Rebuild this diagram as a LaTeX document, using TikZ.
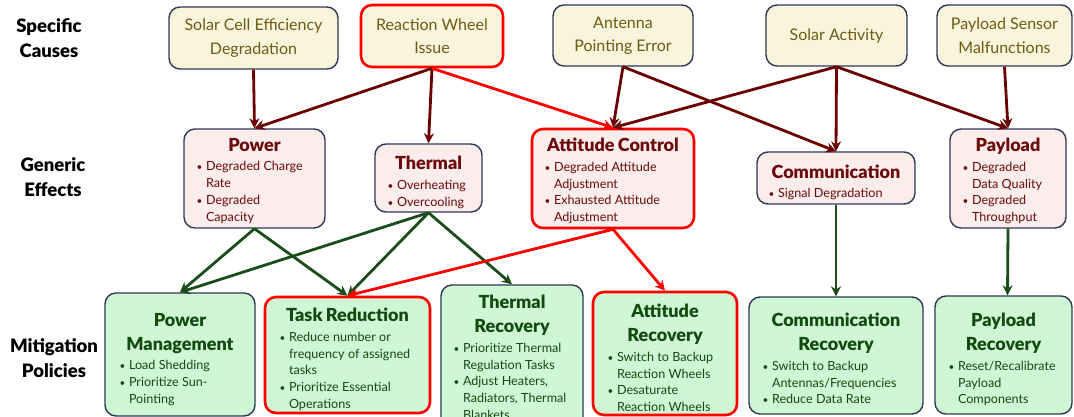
\documentclass[tikz,border=0pt]{standalone}
\usepackage{fontspec}
\setmainfont{Lato}[BoldFont={Lato Black}]
\usetikzlibrary{arrows.meta}
\definecolor{causefill}{HTML}{F8F5DC}
\definecolor{causetext}{HTML}{6E5A12}
\definecolor{efffill}{HTML}{FCEDED}
\definecolor{efftext}{HTML}{6B0A0A}
\definecolor{mitfill}{HTML}{CFF7D3}
\definecolor{mittext}{HTML}{124A12}
\definecolor{bord}{HTML}{2E3856}
\definecolor{darr}{HTML}{6B0000}
\definecolor{garr}{HTML}{1A4D1A}
\definecolor{redc}{HTML}{FF0000}
\newcommand{\bitem}[1]{\par\hangindent=10pt\hangafter=1\noindent\hbox to 10pt{\hskip0.5pt{\fontsize{10}{10}\selectfont\textbullet}\hss}#1}
\newcommand{\hd}[1]{{\parindent=0pt\centering\fontsize{18}{24}\selectfont\bfseries #1\par}\vspace{2.8pt}}
\newcommand{\bl}{\fontsize{12.6}{16.8}\selectfont\raggedright}
\tikzset{
  base/.style={rounded corners=11pt, line width=1.4pt, draw=bord, inner sep=0pt},
  cause/.style={base, fill=causefill, text=causetext, align=center, font=\fontsize{16}{23.5}\selectfont},
  effect/.style={base, fill=efffill},
  mit/.style={base, fill=mitfill},
  etext/.style={anchor=north, inner sep=0pt, text=efftext, text width=#1},
  mtext/.style={anchor=north, inner sep=0pt, text=mittext, text width=#1},
  redbox/.style={draw=redc, line width=2.6pt},
  rowlabel/.style={align=center, font=\fontsize{18.5}{24.5}\selectfont\bfseries, text=black},
  arr/.style={line width=2.8pt, -{Stealth[length=10pt,width=10pt]}},
  darrow/.style={arr, draw=darr, darr},
  garrow/.style={arr, draw=garr, garr},
  rarrow/.style={arr, draw=redc, redc},
}
\begin{document}
\begin{tikzpicture}[x=1pt,y=-1pt]
\useasboundingbox (0,0) rectangle (1074,416);
% row labels
\node[rowlabel] (l1) at (49,38) {Specific\\Causes};
\node[rowlabel] (l2) at (53,177) {Generic\\Effects};
\node[rowlabel] (l3) at (54,358) {Mitigation\\Policies};
% causes
\node[cause, minimum width=169pt, minimum height=62pt] (c1) at (253.5,38) {Solar Cell Efficiency\\Degradation};
\node[cause, redbox, minimum width=142pt, minimum height=62pt] (c2) at (432,36) {Reaction Wheel\\Issue};
\node[cause, minimum width=140pt, minimum height=61pt] (c3) at (623,35.5) {Antenna\\Pointing Error};
\node[cause, minimum width=141pt, minimum height=61pt] (c4) at (836.5,35.5) {Solar Activity};
\node[cause, minimum width=135pt, minimum height=61pt] (c5) at (1004.5,35.5) {Payload Sensor\\Malfunctions};
% effects (boxes)
\node[effect, minimum width=141pt, minimum height=99pt] (e1) at (254.5,178.5) {};
\node[effect, minimum width=107pt, minimum height=68pt] (e2) at (428.5,178) {};
\node[effect, redbox, minimum width=162pt, minimum height=99pt] (e3) at (613,178.5) {};
\node[effect, minimum width=158pt, minimum height=52pt] (e4) at (836,178) {};
\node[effect, minimum width=116pt, minimum height=99pt] (e5) at (1008,178.5) {};
% effects (texts)
\node[etext=117pt] (e1t) at (254.5,138) {\hd{Power}{\bl\bitem{Degraded Charge\newline Rate}\bitem{Degraded\newline Capacity}\par}};
\node[etext=83pt] (e2t) at (428.5,156) {\hd{Thermal}{\bl\bitem{Overheating}\bitem{Overcooling}\par}};
\node[etext=138pt] (e3t) at (613,138) {\hd{Attitude Control}{\bl\bitem{Degraded Attitude\newline Adjustment}\bitem{Exhausted Attitude\newline Adjustment}\par}};
\node[etext=136pt] (e4t) at (836,164.5) {\hd{Communication}{\bl\bitem{Signal Degradation}\par}};
\node[etext=92pt] (e5t) at (1008,138) {\hd{Payload}{\bl\bitem{Degraded\newline Data Quality}\bitem{Degraded\newline Throughput}\par}};
% mitigation (boxes)
\node[mit, minimum width=150pt, minimum height=123pt] (m1) at (180,354.5) {};
\node[mit, redbox, minimum width=165pt, minimum height=116pt] (m2) at (347.5,355) {};
\node[mit, minimum width=142pt, minimum height=147pt] (m3) at (512,358.5) {};
\node[mit, redbox, minimum width=144pt, minimum height=123pt] (m4) at (665,353.5) {};
\node[mit, minimum width=174pt, minimum height=117pt] (m5) at (836,355.5) {};
\node[mit, minimum width=137pt, minimum height=118pt] (m6) at (1003.5,355) {};
% mitigation (texts)
\node[mtext=122pt] (m1t) at (180,313) {\hd{Power\\Management}{\bl\bitem{Load Shedding}\bitem{Prioritize Sun-\newline Pointing}\par}};
\node[mtext=137pt] (m2t) at (347.5,308) {\hd{Task Reduction}{\bl\bitem{Reduce number or\newline frequency of assigned\newline tasks}\bitem{Prioritize Essential\newline Operations}\par}};
\node[mtext=118pt] (m3t) at (512,295) {\hd{Thermal\\Recovery}{\bl\bitem{Prioritize Thermal\newline Regulation Tasks}\bitem{Adjust Heaters,\newline Radiators, Thermal\newline Blankets}\par}};
\node[mtext=116pt] (m4t) at (665,304) {\hd{Attitude\\Recovery}{\bl\bitem{Switch to Backup\newline Reaction Wheels}\bitem{Desaturate\newline Reaction Wheels}\par}};
\node[mtext=148pt] (m5t) at (836,313) {\hd{Communication\\Recovery}{\bl\bitem{Switch to Backup\newline Antennas/Frequencies}\bitem{Reduce Data Rate}\par}};
\node[mtext=111pt] (m6t) at (1003.5,313) {\hd{Payload\\Recovery}{\bl\bitem{Reset/Recalibrate\newline Payload\newline Components}\par}};
% cause -> effect
\draw[darrow] (c1.south) -- (e1.north);
\draw[darrow] (c2.south) -- (e1.north);
\draw[darrow] (c2.south) -- (e2.north);
\draw[rarrow] (c2.south) -- (e3.north);
\draw[darrow] (c3.south) -- (e3.north);
\draw[darrow] (c3.south) -- (e4.north);
\draw[darrow] (c4.south) -- (e3.north);
\draw[darrow] (c4.south) -- (e4.north);
\draw[darrow] (c4.south) -- (e5.north);
\draw[darrow] (c5.south) -- (e5.north);
% effect -> mitigation
\draw[garrow] (e1.south) -- (m1.north);
\draw[garrow] (e1.south) -- (m2.north);
\draw[garrow] (e2.south) -- (m1.north);
\draw[garrow] (e2.south) -- (m2.north);
\draw[garrow] (e2.south) -- (m3.north);
\draw[rarrow] (e3.south) -- (m2.north);
\draw[rarrow] (e3.south) -- (m4.north);
\draw[garrow] (e4.south) -- (m5.north);
\draw[garrow] (e5.south) -- ([xshift=4pt]m6.north);
\end{tikzpicture}
\end{document}
